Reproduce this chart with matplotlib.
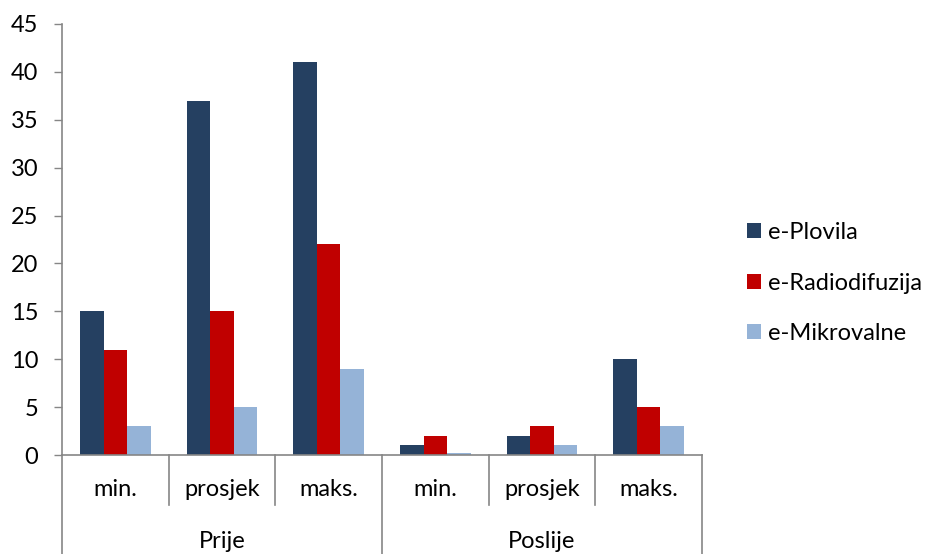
import matplotlib.pyplot as plt
import numpy as np

plt.rcParams['font.family'] = ['Lato', 'DejaVu Sans']

# categories: (group, sub-category)
groups = ['Prije', 'Poslije']
subcats = ['min.', 'prosjek', 'maks.']

series_names = ['e-Plovila', 'e-Radiodifuzija', 'e-Mikrovalne']
plovila = [15, 37, 41, 1, 2, 10]
radiodifuzija = [11, 15, 22, 2, 3, 5]
mikrovalne = [3, 5, 9, 0.2, 1, 3]

colors = ['#254061', '#C00000', '#95B3D7']
axis_grey = '#868686'
fs = 17

fig = plt.figure(figsize=(9.28, 5.54), dpi=100)
ax = fig.add_axes([62 / 928, 99 / 554, 640 / 928, 431 / 554])

n = len(groups) * len(subcats)
x = np.arange(n)
w = 0.22
for i, (vals, name, c) in enumerate(zip([plovila, radiodifuzija, mikrovalne], series_names, colors)):
    ax.bar(x + (i - 1) * w, vals, width=w, color=c, label=name)

ax.set_xlim(-0.5, n - 0.5)
ax.set_ylim(0, 45)
ax.set_yticks(range(0, 46, 5))
ax.tick_params(axis='y', length=6, width=1, color=axis_grey, pad=11, labelsize=fs)
ax.set_xticks([])

for s in ['top', 'right']:
    ax.spines[s].set_visible(False)
for s in ['left', 'bottom']:
    ax.spines[s].set_color(axis_grey)
    ax.spines[s].set_linewidth(1.2)

# multi-level category axis
tr = ax.get_xaxis_transform()
inner_y = -50 / 431
outer_y = -99 / 431
for b in np.arange(-0.5, n, 1.0):
    if (b + 0.5) % len(subcats) == 0:
        ax.plot([b, b], [0, outer_y], transform=tr, color=axis_grey, lw=1.2, clip_on=False)
    else:
        ax.plot([b, b], [0, inner_y], transform=tr, color=axis_grey, lw=1.2, clip_on=False)

for gi, g in enumerate(groups):
    for si, s in enumerate(subcats):
        xi = gi * len(subcats) + si
        ax.text(xi, -35 / 431, s, transform=tr, ha='center', va='center', fontsize=fs)
    center = gi * len(subcats) + (len(subcats) - 1) / 2
    ax.text(center, -87 / 431, g, transform=tr, ha='center', va='center', fontsize=fs)

fig.legend(loc='center left', bbox_to_anchor=(726 / 928, 1 - 283 / 554), frameon=False,
           fontsize=fs, handlelength=0.6, handleheight=0.6, handletextpad=0.3,
           labelspacing=1.25)

fig.savefig('out.png', dpi=100)
